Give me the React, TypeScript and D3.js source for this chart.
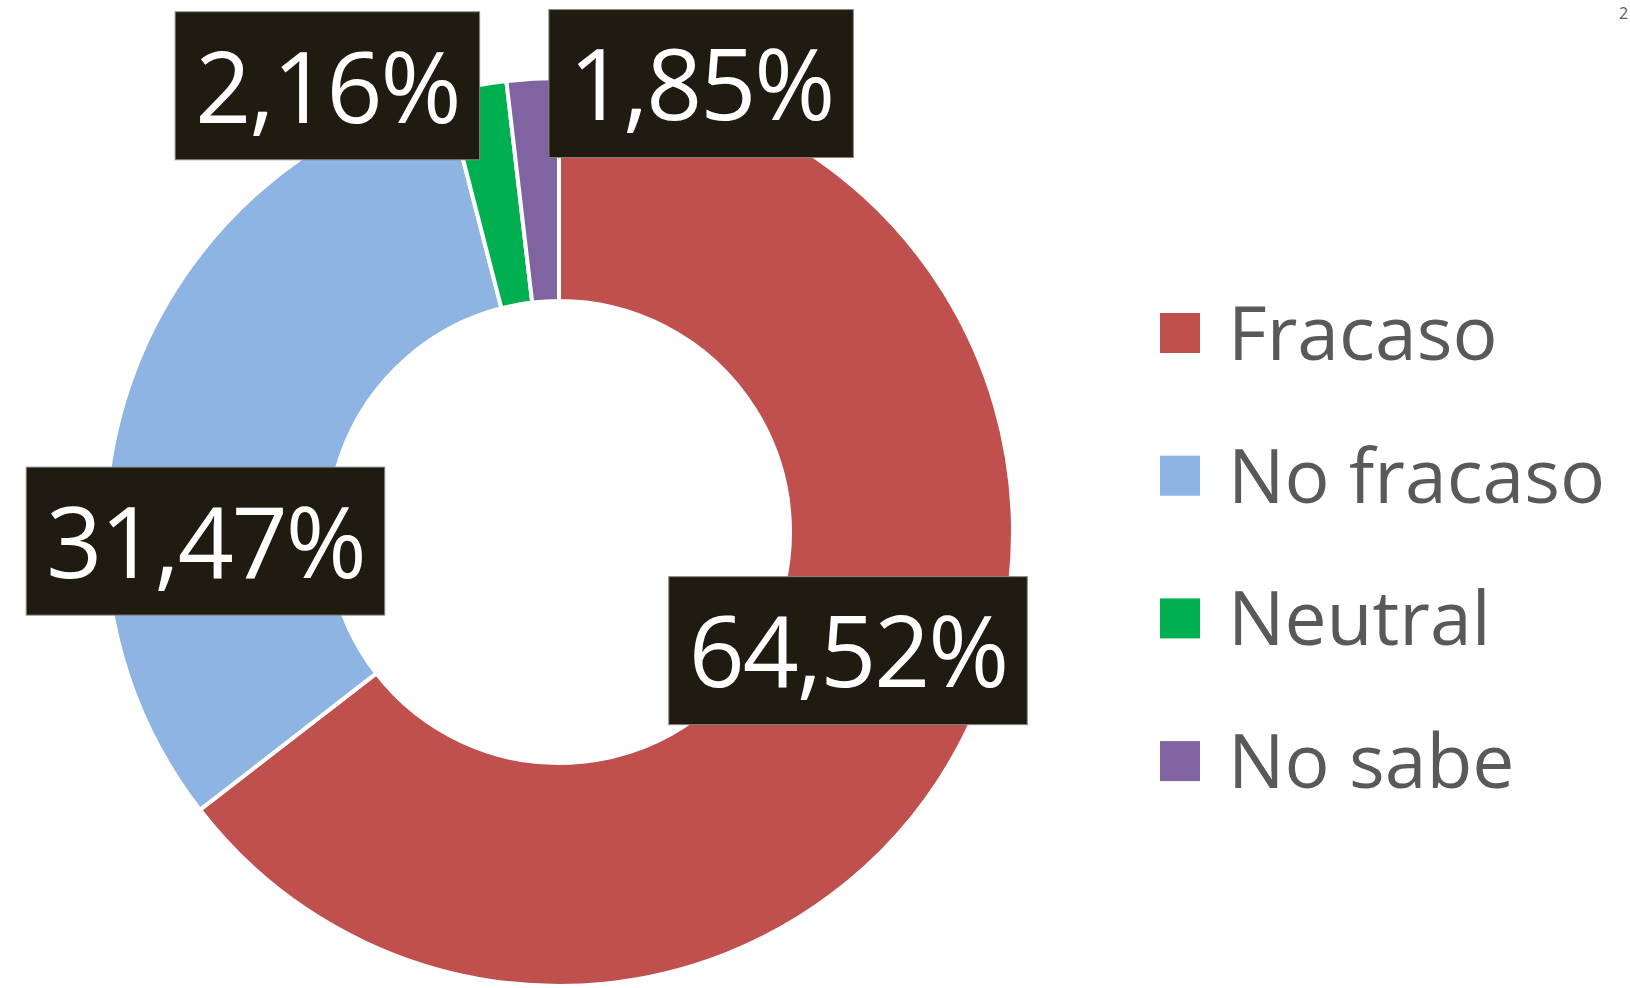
import React, { useEffect, useRef } from 'react'
import * as d3 from 'd3'

const categories = ['Fracaso', 'No fracaso', 'Neutral', 'No sabe']
const values = [64.52, 31.47, 2.16, 1.85]
const valueLabels = ['64,52%', '31,47%', '2,16%', '1,85%']
const colors = ['#C0504D', '#8DB4E2', '#00B050', '#8064A2']

// nudges of the data label boxes away from the ring centroid (Excel moved them)
const labelNudge: [number, number][] = [[-18, -32], [-30, 120], [-169, -110], [162, -107]]

export default function App() {
  const ref = useRef<SVGSVGElement>(null)

  useEffect(() => {
    const width = 1630
    const height = 988
    const cx = 559
    const cy = 532
    const outerR = 454
    const innerR = 231

    const svg = d3.select(ref.current)
      .attr('width', width)
      .attr('height', height)
    svg.selectAll('*').remove()

    const data = categories.map((c, i) => ({ name: c, value: values[i], label: valueLabels[i], color: colors[i] }))

    const pie = d3.pie<any>()
      .sort(null)
      .value(d => d.value)

    const arc = d3.arc<any>()
      .innerRadius(innerR)
      .outerRadius(outerR)

    const labelArc = d3.arc<any>()
      .innerRadius(342)
      .outerRadius(342)

    const g = svg.append('g')
      .attr('transform', `translate(${cx},${cy})`)

    const arcs = pie(data)

    g.selectAll('path.slice')
      .data(arcs).enter()
      .append('path')
      .attr('class', 'slice')
      .attr('d', arc)
      .attr('fill', d => d.data.color)
      .attr('stroke', '#fff')
      .attr('stroke-width', 4)

    // data labels: dark boxes with white text
    const fs = 98
    const labels = g.selectAll('g.lbl')
      .data(arcs).enter()
      .append('g')
      .attr('class', 'lbl')
      .attr('transform', (d, i) => {
        const [x, y] = labelArc.centroid(d)
        return `translate(${x + labelNudge[i][0]},${y + labelNudge[i][1]})`
      })

    const rects = labels.append('rect')
      .attr('fill', '#201B10')
      .attr('stroke', '#8a8780')
      .attr('stroke-width', 1)

    const texts = labels.append('text')
      .attr('text-anchor', 'middle')
      .attr('y', fs * 0.375)
      .attr('fill', '#fff')
      .style('font-family', '"Open Sans", "Noto Sans", sans-serif')
      .style('font-size', `${fs}px`)
      .style('letter-spacing', '-2px')
      .text(d => d.data.label)

    texts.each(function (d, i) {
      const w = (this as SVGTextElement).getComputedTextLength()
      d3.select(rects.nodes()[i])
        .attr('x', -w / 2 - 20)
        .attr('width', w + 40)
        .attr('y', -74)
        .attr('height', 148)
    })

    // legend
    const legend = svg.append('g')
      .attr('transform', 'translate(1160,333)')

    const items = legend.selectAll('g')
      .data(data).enter()
      .append('g')
      .attr('transform', (d, i) => `translate(0,${i * 142.7})`)

    items.append('rect')
      .attr('x', 0)
      .attr('y', -20)
      .attr('width', 40)
      .attr('height', 40)
      .attr('fill', d => d.color)

    items.append('text')
      .attr('x', 68)
      .attr('y', 27)
      .attr('fill', '#595959')
      .style('font-family', '"Open Sans", "Noto Sans", sans-serif')
      .style('font-size', '75px')
      .text(d => d.name)

    // small character at the top right edge
    svg.append('text')
      .attr('x', 1619)
      .attr('y', 19)
      .attr('fill', '#595959')
      .style('font-family', '"Open Sans", sans-serif')
      .style('font-size', '16px')
      .text('2')
  }, [])

  return <svg ref={ref} style={{ position: 'absolute', left: 0, top: 0 }}></svg>
}
